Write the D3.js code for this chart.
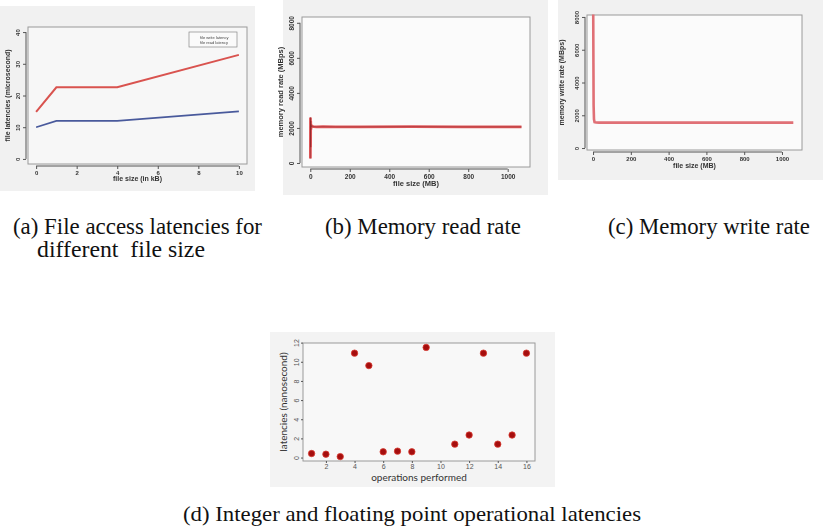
<!DOCTYPE html>
<html>
<head>
<meta charset="utf-8">
<script src="https://cdn.jsdelivr.net/npm/d3@7"></script>
<style>
  body { margin: 0; background: #fff; }
  svg { display: block; }
  .tick text { font-family: "Liberation Sans", Arial, sans-serif; }
</style>
</head>
<body>
<svg id="chart" width="823" height="527"></svg>
<script>
// (a) file access latencies
var fileSize = [0, 1, 4, 10];
var writeLatency = [14.8, 22.6, 22.6, 32.8];
var readLatency = [10, 12, 12, 15];
var legendNames = ["file write latency", "file read latency"];
var xTicksA = [0, 2, 4, 6, 8, 10];
var yTicksA = [0, 10, 20, 30, 40];

// (b) memory read rate (MB vs MBps)
var readSize = [0.5, 1, 1.5, 2, 3, 4, 6, 8, 16, 32, 64, 128, 256, 512, 768, 1070];
var readRate = [250, 2600, 900, 2400, 1900, 2200, 2050, 2100, 2080, 2060, 2070, 2060, 2060, 2070, 2060, 2060];

// (c) memory write rate
var writeSize = [1, 2, 3, 5, 8, 16, 32, 64, 128, 256, 512, 768, 1060];
var writeRate = [8150, 5200, 2600, 1750, 1580, 1560, 1550, 1550, 1550, 1550, 1550, 1550, 1550];
var xTicksMem = [0, 200, 400, 600, 800, 1000];
var yTicksMem = [0, 2000, 4000, 6000, 8000];

// (d) operational latencies
var ops = [1, 2, 3, 4, 5, 6, 7, 8, 9, 11, 12, 13, 14, 15, 16];
var opLatency = [0.42, 0.35, 0.1, 10.9, 9.6, 0.6, 0.67, 0.6, 11.5, 1.4, 2.35, 10.9, 1.4, 2.35, 10.9];
var xTicksOps = [2, 4, 6, 8, 10, 12, 14, 16];
var yTicksOps = [0, 2, 4, 6, 8, 10, 12];

var captions = [
  {lines: ["(a) File access latencies for", "different  file size"], widths: [249, 168], x: 13, y: 234},
  {lines: ["(b) Memory read rate"], widths: [196], x: 325, y: 234},
  {lines: ["(c) Memory write rate"], widths: [202], x: 608, y: 234}
];
var captionD = "(d) Integer and floating point operational latencies";

var svg = d3.select("#chart");
var defs = svg.append("defs");
defs.append("filter").attr("id", "soft")
  .append("feGaussianBlur").attr("stdDeviation", 0.45);

var fmt = d3.format("d");

// R style frame + axes
function rAxes(g, x, y, xt, yt, o) {
  var xr = x.range(), yr = y.range();
  g.append("rect")
    .attr("x", xr[0]).attr("y", yr[1])
    .attr("width", xr[1] - xr[0]).attr("height", yr[0] - yr[1])
    .attr("fill", o.plotFill).attr("stroke", "#9a9a9a").attr("stroke-width", 1);

  var xa = g.append("g").attr("transform", "translate(0," + (yr[0] + o.gap) + ")")
    .call(d3.axisBottom(x).tickValues(xt).tickFormat(fmt).tickSize(o.tick).tickPadding(o.pad));
  xa.select(".domain").remove();
  if (o.gap > 0) {
    xa.append("line").attr("x1", x(xt[0])).attr("x2", x(xt[xt.length - 1]))
      .attr("stroke", "#555");
  }
  xa.selectAll(".tick line").attr("stroke", "#555");
  xa.selectAll(".tick text").attr("fill", o.tcol).style("font-size", o.fs + "px")
    .style("font-weight", o.fw);

  var ya = g.append("g").attr("transform", "translate(" + (xr[0] - o.gap) + ",0)")
    .call(d3.axisLeft(y).tickValues(yt).tickFormat(fmt).tickSize(o.tick).tickPadding(o.pad));
  ya.select(".domain").remove();
  if (o.gap > 0) {
    ya.append("line").attr("y1", y(yt[0])).attr("y2", y(yt[yt.length - 1]))
      .attr("stroke", "#555");
  }
  ya.selectAll(".tick line").attr("stroke", "#555");
  ya.selectAll(".tick text")
    .attr("fill", o.tcol).style("font-size", o.fs + "px").style("font-weight", o.fw)
    .attr("text-anchor", "middle").attr("dy", 0)
    .attr("transform", "rotate(-90) translate(0," + (-(o.tick + o.pad + 1)) + ")")
    .attr("x", 0).attr("y", 0);

  g.append("text")
    .attr("x", (xr[0] + xr[1]) / 2).attr("y", o.xlabY)
    .attr("text-anchor", "middle")
    .style("font-family", o.family).style("font-size", o.lfs + "px")
    .style("font-weight", o.fw).attr("fill", o.lcol || o.tcol)
    .text(o.xlab);
  g.append("text")
    .attr("transform", "translate(" + o.ylabX + "," + ((yr[0] + yr[1]) / 2) + ") rotate(-90)")
    .attr("text-anchor", "middle")
    .style("font-family", o.family).style("font-size", o.lfs + "px")
    .style("font-weight", o.fw).attr("fill", o.lcol || o.tcol)
    .text(o.ylab);
}

var line = function(x, y) {
  return d3.line().x(function(d) { return x(d[0]); }).y(function(d) { return y(d[1]); });
};

// ---- panel (a)
var ga = svg.append("g").attr("filter", "url(#soft)");
ga.append("rect").attr("x", 0).attr("y", 6).attr("width", 255).attr("height", 185).attr("fill", "#f1f1f1");
var xA = d3.scaleLinear().domain([-0.4, 10.4]).range([28, 247]);
var yA = d3.scaleLinear().domain([-1.6, 41.6]).range([164, 27]);
rAxes(ga, xA, yA, xTicksA, yTicksA, {plotFill: "#f7f7f7", gap: 2, tick: 3, pad: 2, fs: 6, fw: "bold",
  tcol: "#333", family: "Liberation Sans", lfs: 7, xlab: "file size (in kB)", xlabY: 181,
  ylab: "file latencies (microsecond)", ylabX: 10});
ga.append("path").datum(d3.zip(fileSize, writeLatency)).attr("d", line(xA, yA))
  .attr("fill", "none").attr("stroke", "#d9534f").attr("stroke-width", 2);
ga.append("path").datum(d3.zip(fileSize, readLatency)).attr("d", line(xA, yA))
  .attr("fill", "none").attr("stroke", "#4a5a9c").attr("stroke-width", 1.6);
var leg = ga.append("g");
leg.append("rect").attr("x", 189).attr("y", 32).attr("width", 48).attr("height", 15)
  .attr("fill", "#fafafa").attr("stroke", "#888").attr("stroke-width", 0.7);
leg.selectAll("text").data(legendNames).enter().append("text")
  .attr("x", 200).attr("y", function(d, i) { return 38.5 + i * 5; })
  .style("font-family", "Liberation Sans").style("font-size", "4px").attr("fill", "#444")
  .text(function(d) { return d; });

// ---- panel (b)
var gb = svg.append("g").attr("filter", "url(#soft)");
gb.append("rect").attr("x", 283).attr("y", 0).attr("width", 265).attr("height", 195).attr("fill", "#f1f1f1");
var xB = d3.scaleLinear().domain([-42, 1113]).range([302, 530]);
var yB = d3.scaleLinear().domain([-230, 8330]).range([167, 17]);
rAxes(gb, xB, yB, xTicksMem, yTicksMem, {plotFill: "#fbfbfb", gap: 2, tick: 3, pad: 2, fs: 6.5, fw: "bold",
  tcol: "#333", family: "Liberation Sans", lfs: 7.5, xlab: "file size (MB)", xlabY: 186,
  ylab: "memory read rate (MBps)", ylabX: 283});
gb.append("path").datum(d3.zip(readSize, readRate)).attr("d", line(xB, yB))
  .attr("fill", "none").attr("stroke", "#e0585a").attr("stroke-width", 2.8);
gb.append("path").datum(d3.zip(readSize, readRate)).attr("d", line(xB, yB))
  .attr("fill", "none").attr("stroke", "#8a2428").attr("stroke-width", 0.5);

// ---- panel (c)
var gc = svg.append("g").attr("filter", "url(#soft)");
gc.append("rect").attr("x", 558).attr("y", 0).attr("width", 265).attr("height", 180).attr("fill", "#f1f1f1");
var xC = d3.scaleLinear().domain([-32, 1106]).range([587, 802]);
var yC = d3.scaleLinear().domain([-120, 8120]).range([150, 15]);
rAxes(gc, xC, yC, xTicksMem, yTicksMem, {plotFill: "#fbfbfb", gap: 2, tick: 3, pad: 2, fs: 6, fw: "bold",
  tcol: "#333", family: "Liberation Sans", lfs: 7, xlab: "file size (MB)", xlabY: 168,
  ylab: "memory write rate (MBps)", ylabX: 564});
gc.append("path").datum(d3.zip(writeSize, writeRate)).attr("d", line(xC, yC))
  .attr("fill", "none").attr("stroke", "#e07076").attr("stroke-width", 2.6);

// ---- panel (d)
var gd = svg.append("g");
gd.append("rect").attr("x", 270).attr("y", 332).attr("width", 285).attr("height", 155).attr("fill", "#f3f3f3");
var xD = d3.scaleLinear().domain([0.4, 16.6]).range([303, 535]);
var yD = d3.scaleLinear().domain([-0.36, 11.96]).range([461, 343]);
rAxes(gd, xD, yD, xTicksOps, yTicksOps, {plotFill: "#f8f8f8", gap: 0, tick: 2, pad: 1, fs: 7, fw: "normal",
  tcol: "#555", lcol: "#333", family: "Lato", lfs: 10, xlab: "operations performed", xlabY: 481,
  ylab: "latencies (nanosecond)", ylabX: 287});
gd.selectAll("circle").data(d3.zip(ops, opLatency)).enter().append("circle")
  .attr("cx", function(d) { return xD(d[0]); })
  .attr("cy", function(d) { return yD(d[1]); })
  .attr("r", 3.2)
  .attr("fill", "#a50e0e").attr("stroke", "#d83a30").attr("stroke-width", 0.8);

// ---- captions
captions.forEach(function(c) {
  var t = svg.append("text").attr("x", c.x).attr("y", c.y)
    .style("font-family", "Liberation Serif").style("font-size", "23px").attr("fill", "#111");
  c.lines.forEach(function(l, i) {
    t.append("tspan").attr("x", i === 0 ? c.x : c.x + 24).attr("dy", i === 0 ? 0 : 23)
      .attr("textLength", c.widths[i]).attr("lengthAdjust", "spacingAndGlyphs")
      .style("white-space", "pre").text(l);
  });
});
svg.append("text").attr("x", 183).attr("y", 521)
  .attr("textLength", 458).attr("lengthAdjust", "spacingAndGlyphs")
  .style("font-family", "Liberation Serif").style("font-size", "22px").attr("fill", "#111")
  .text(captionD);
</script>
</body>
</html>
